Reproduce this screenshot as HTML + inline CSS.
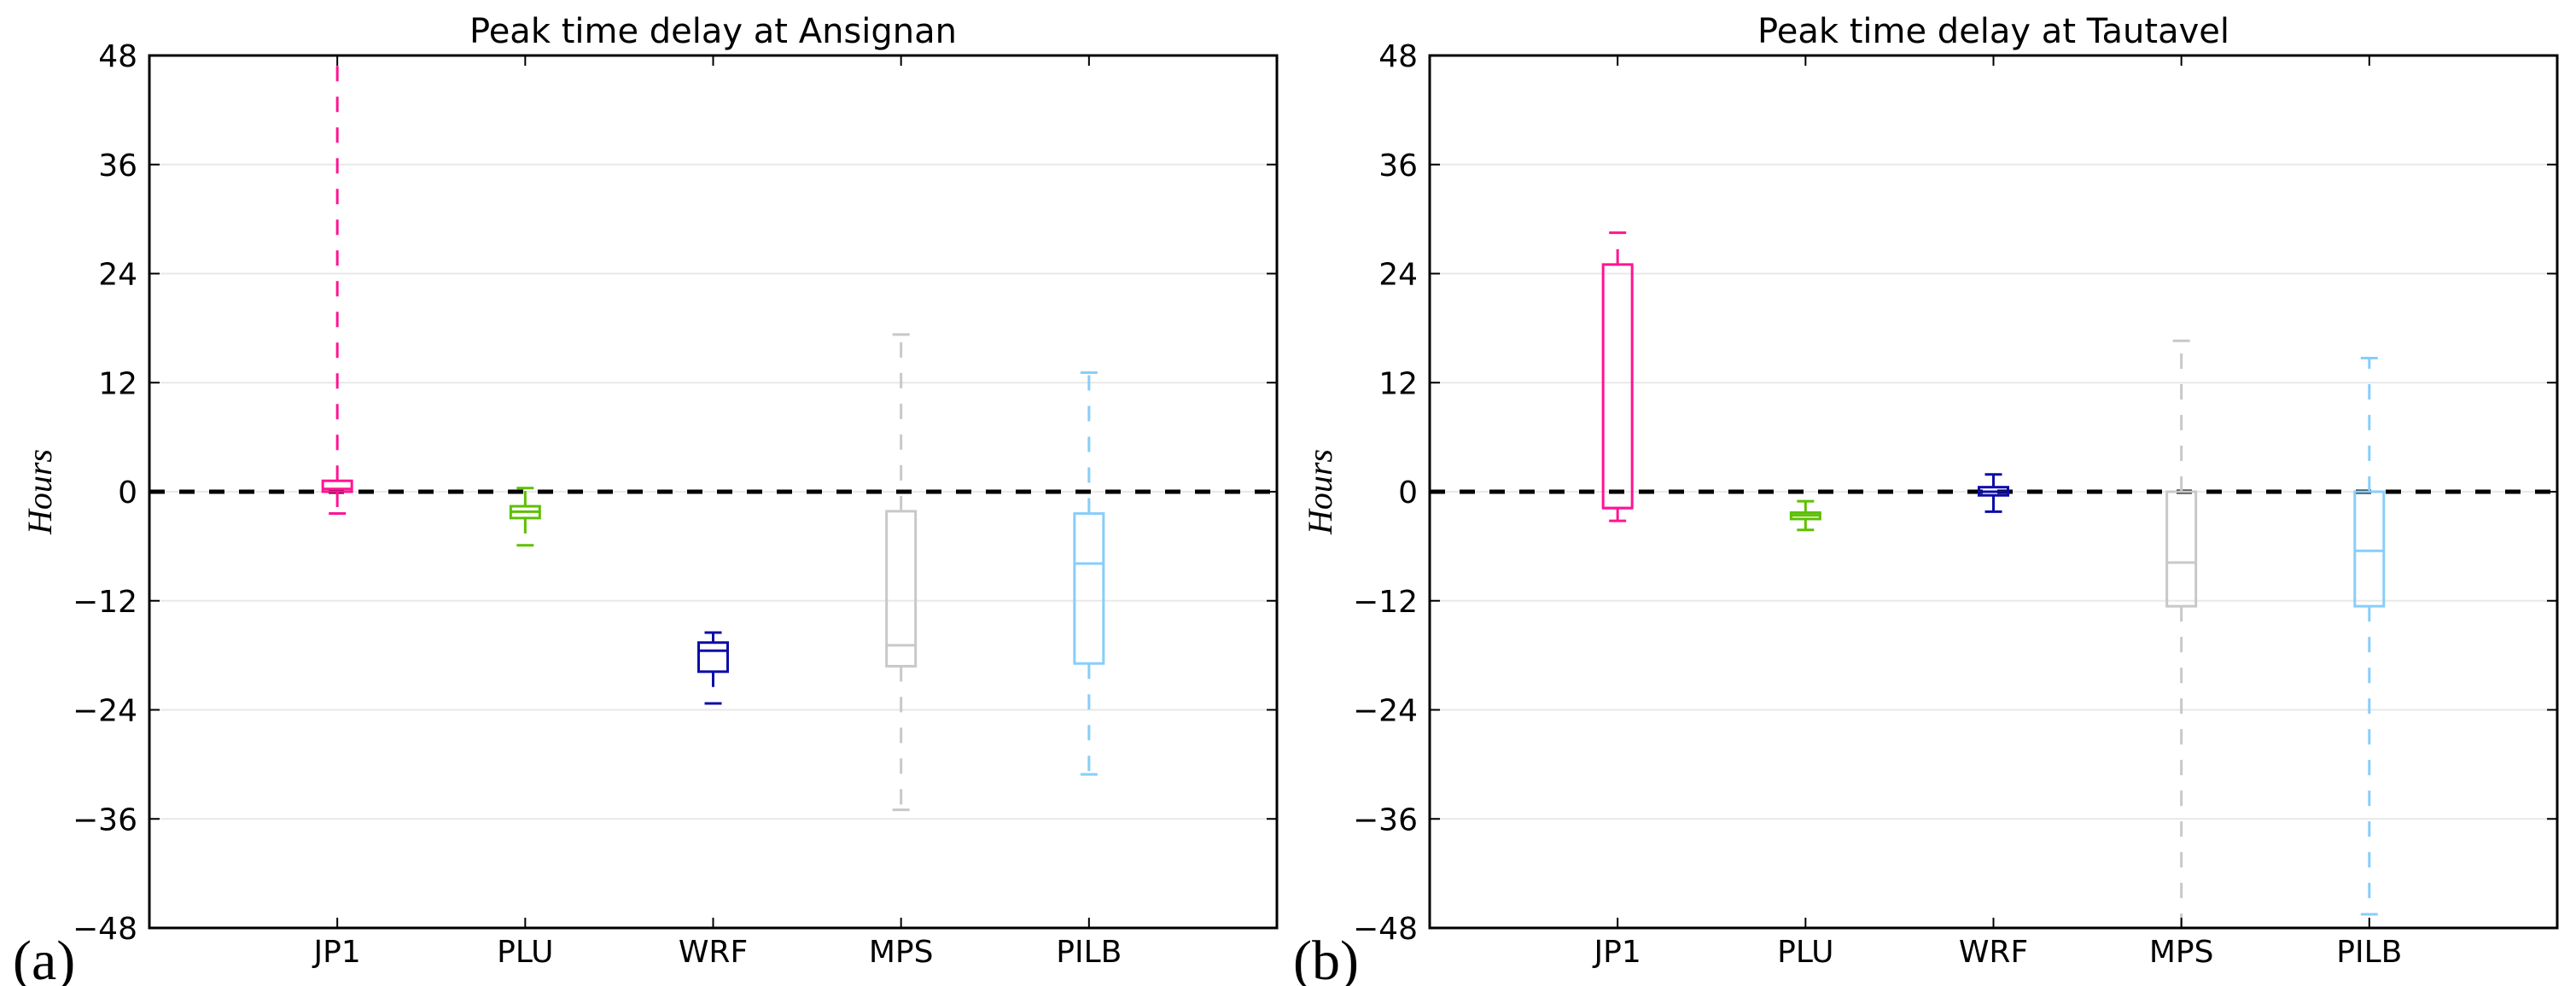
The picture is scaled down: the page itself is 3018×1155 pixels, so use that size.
<!DOCTYPE html>
<html><head><meta charset="utf-8"><style>
html,body{margin:0;padding:0;background:#fff}
svg{display:block}
</style></head><body>
<svg id="chart" width="3018" height="1155" xmlns="http://www.w3.org/2000/svg"></svg>
<script>
const categories = ["JP1","PLU","WRF","MPS","PILB"];
const colors = ["#ff1493","#5dc000","#0c0ca8","#c8c8c8","#87cefa"];
const yTicks = [48,36,24,12,0,-12,-24,-36,-48];
const panelTitles = ["Peak time delay at Ansignan","Peak time delay at Tautavel"];
const panelLetters = ["(a)","(b)"];
// [lowerCap, q1, median, q3, upperCap]
const ansignanStats = [
  [-2.4, 0, 0.3, 1.2, 48],
  [-5.9, -2.9, -2.2, -1.6, 0.4],
  [-23.3, -19.8, -17.5, -16.6, -15.5],
  [-35, -19.2, -16.9, -2.15, 17.3],
  [-31.1, -18.9, -7.9, -2.4, 13.1]
];
const tautavelStats = [
  [-3.2, -1.8, -1.8, 25.0, 28.5],
  [-4.2, -3.0, -2.6, -2.3, -1.05],
  [-2.2, -0.4, 0, 0.5, 1.9],
  [-48, -12.6, -7.8, 0, 16.6],
  [-46.5, -12.6, -6.5, 0, 14.7]
];
const panels = [ansignanStats, tautavelStats];

const svg = document.getElementById('chart');
const NS = 'http://www.w3.org/2000/svg';
function mk(tag, attrs, parent){const e=document.createElementNS(NS,tag);for(const k in attrs)e.setAttribute(k,attrs[k]);(parent||svg).appendChild(e);return e;}
const TOP=65, BOT=1087, W=1321;
const lefts=[175,1675];
const yMin=-48,yMax=48;
function yScale(v){return TOP+(yMax-v)/(yMax-yMin)*(BOT-TOP);}
function xScale(L,i){return L+(i+1)*W/6;}
const font='"DejaVu Sans","Liberation Sans",sans-serif';

panels.forEach((stats,p)=>{
  const L=lefts[p], R=L+W;
  const g=mk('g',{});
  
  
  yTicks.forEach(t=>{
    const y=yScale(t);
    if(t!==48&&t!==-48){
      const gl=mk('line',{x1:L,x2:R,y1:y,y2:y,stroke:'#e8e8e8','stroke-width':2},g);
      
      
    }
    mk('line',{x1:L,x2:L+12,y1:y,y2:y,stroke:'#000','stroke-width':2},g);
    mk('line',{x1:R-12,x2:R,y1:y,y2:y,stroke:'#000','stroke-width':2},g);
    const tl=mk('text',{x:L-14,y:y+13,'text-anchor':'end','font-family':font,'font-size':36,fill:'#000'},g);
    tl.textContent=(t<0?'\u2212'+(-t):String(t));
    
    
  });
  const zl=mk('line',{x1:L,x2:R,y1:yScale(0),y2:yScale(0),stroke:'#000','stroke-width':5,'stroke-dasharray':'18,17'},g);
  
  
  stats.forEach((s,i)=>{
    const x=xScale(L,i), c=colors[i];
    const bg=mk('g',{},g);
    
    
    const hw=17, cw=10;
    const [lo,q1,med,q3,hi]=s;
    mk('line',{x1:x,x2:x,y1:yScale(q3),y2:yScale(hi),stroke:c,'stroke-width':3,'stroke-dasharray':'18,18'},bg);
    mk('line',{x1:x,x2:x,y1:yScale(q1),y2:yScale(lo),stroke:c,'stroke-width':3,'stroke-dasharray':'18,18'},bg);
    mk('line',{x1:x-cw,x2:x+cw,y1:yScale(hi),y2:yScale(hi),stroke:c,'stroke-width':3},bg);
    mk('line',{x1:x-cw,x2:x+cw,y1:yScale(lo),y2:yScale(lo),stroke:c,'stroke-width':3},bg);
    mk('rect',{x:x-hw,y:yScale(q3),width:2*hw,height:Math.max(0,yScale(q1)-yScale(q3)),fill:'none',stroke:c,'stroke-width':3},bg);
    mk('line',{x1:x-hw,x2:x+hw,y1:yScale(med),y2:yScale(med),stroke:c,'stroke-width':3},bg);
    mk('line',{x1:x,x2:x,y1:BOT,y2:BOT-12,stroke:'#000','stroke-width':2},g);
    mk('line',{x1:x,x2:x,y1:TOP,y2:TOP+12,stroke:'#000','stroke-width':2},g);
    const xl=mk('text',{x:x,y:1127,'text-anchor':'middle','font-family':font,'font-size':36,fill:'#000'},g);
    xl.textContent=categories[i];
    
    
  });
  const fr=mk('rect',{x:L,y:TOP,width:W,height:BOT-TOP,fill:'none',stroke:'#000','stroke-width':3},g);
  
  
  const ti=mk('text',{x:L+W/2,y:50,'text-anchor':'middle','font-family':font,'font-size':40,fill:'#000'},g);
  ti.textContent=panelTitles[p];
  
  
  const yl=mk('text',{x:0,y:0,'text-anchor':'middle','font-family':'"Liberation Serif",serif','font-style':'italic','font-size':40,fill:'#000',transform:'translate('+(L-115)+','+yScale(0)+') rotate(-90)'},g);
  yl.textContent='Hours';
  
  
  const pl=mk('text',{x:L-160,y:1147,'font-family':'"Liberation Serif",serif','font-size':66,fill:'#000'},g);
  pl.textContent=panelLetters[p];
  
  
});
</script>
</body></html>
